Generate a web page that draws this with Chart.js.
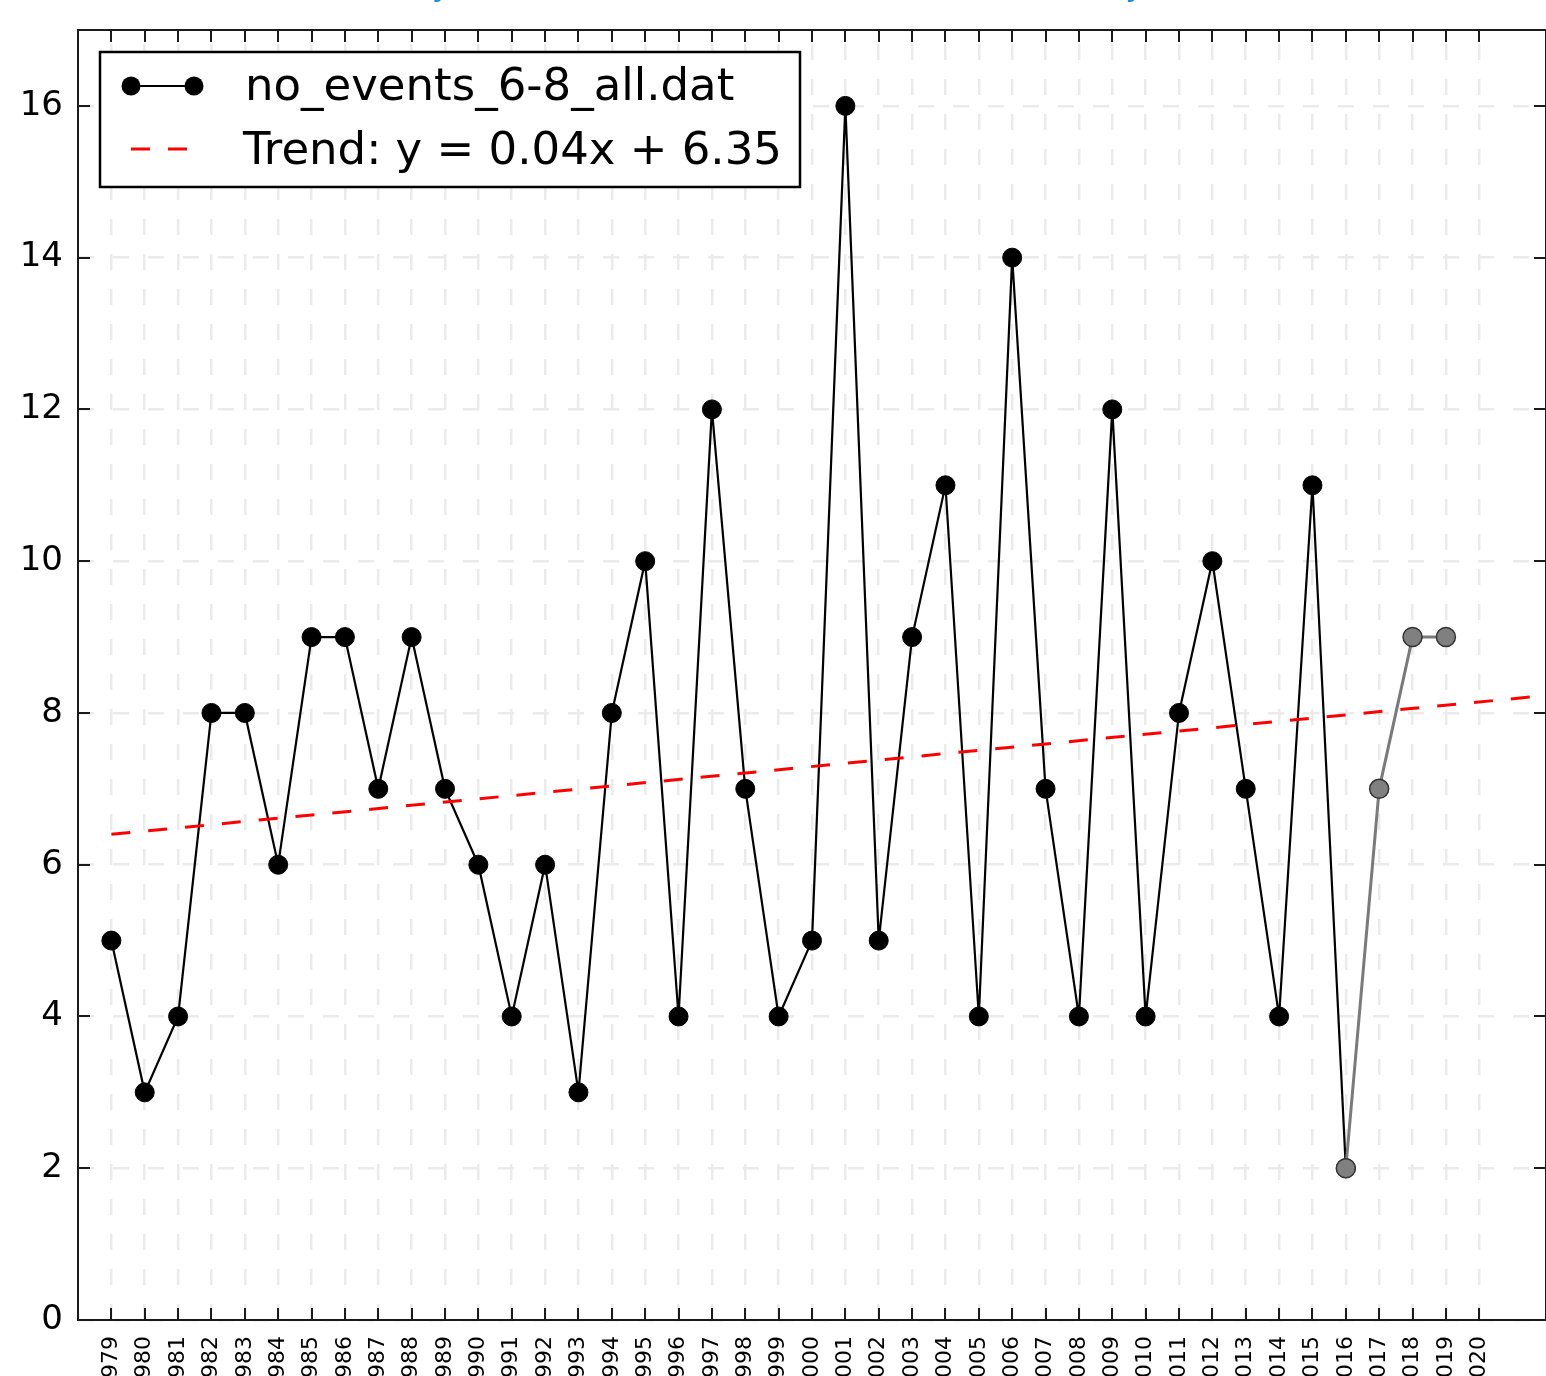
<!DOCTYPE html>
<html>
<head>
<meta charset="utf-8">
<script src="https://cdn.jsdelivr.net/npm/chart.js@4.4.0/dist/chart.umd.min.js"></script>
<style>
    html, body { margin: 0; padding: 0; background: #fff; overflow: hidden; }
    #wrap { position: absolute; left: 0; top: -60px; }
</style>
</head>
<body>
<div id="wrap"><canvas id="eventsChart" width="1557" height="1476"></canvas></div>
<script>
// data
const years = [1979, 1980, 1981, 1982, 1983, 1984, 1985, 1986, 1987, 1988,
               1989, 1990, 1991, 1992, 1993, 1994, 1995, 1996, 1997, 1998,
               1999, 2000, 2001, 2002, 2003, 2004, 2005, 2006, 2007, 2008,
               2009, 2010, 2011, 2012, 2013, 2014, 2015, 2016, 2017, 2018, 2019];
const events = [5, 3, 4, 8, 8, 6, 9, 9, 7, 9,
                7, 6, 4, 6, 3, 8, 10, 4, 12, 7,
                4, 5, 16, 5, 9, 11, 4, 14, 7, 4,
                12, 4, 8, 10, 7, 4, 11, 2, 7, 9, 9];
const provisionalFrom = 2016;   // grey part of the series
const trendYears = [1979, 2022];
const trendValues = [6.4, 8.23];
const xTickYears = [];
for (let yr = 1979; yr <= 2020; yr++) xTickYears.push(yr);
const yTickValues = [0, 2, 4, 6, 8, 10, 12, 14, 16];

const seriesLabel = "no_events_6-8_all.dat";
const trendLabel = "Trend: y = 0.04x + 6.35";
const titleText = "Heavy rain events in summer for all stations in Germany";

const observed = years.map((yr, i) => ({ x: yr, y: events[i] })).filter(p => p.x <= provisionalFrom);
const provisional = years.map((yr, i) => ({ x: yr, y: events[i] })).filter(p => p.x >= provisionalFrom);
const trend = trendYears.map((yr, i) => ({ x: yr, y: trendValues[i] }));

const gridColor = "#ebebeb";

// frame + inward ticks on all four sides
const framePlugin = {
    id: "frame",
    afterDatasetsDraw(chart) {
        const { ctx, chartArea: a, scales: { x, y } } = chart;
        const len = 12;
        ctx.save();
        ctx.strokeStyle = "#1a1a1a";
        ctx.lineWidth = 2;
        ctx.beginPath();
        x.ticks.forEach((t) => {
            const px = Math.round(x.getPixelForValue(t.value));
            ctx.moveTo(px, a.top); ctx.lineTo(px, a.top + len);
            ctx.moveTo(px, a.bottom); ctx.lineTo(px, a.bottom - len);
        });
        y.ticks.forEach((t) => {
            const py = Math.round(y.getPixelForValue(t.value));
            ctx.moveTo(a.left, py); ctx.lineTo(a.left + len, py);
            ctx.moveTo(a.right, py); ctx.lineTo(a.right - len, py);
        });
        ctx.stroke();
        ctx.strokeRect(a.left, a.top, a.right - a.left, a.bottom - a.top);
        ctx.restore();
    },
};

// matplotlib-like legend box in the upper left corner
const boxLegendPlugin = {
    id: "boxLegend",
    afterDraw(chart) {
        const { ctx, chartArea: a } = chart;
        const ds = chart.data.datasets;
        const black = ds[2], red = ds[0];
        const left = a.left + 22, top = a.top + 22, w = 700, h = 135;
        ctx.save();
        ctx.fillStyle = "#fff";
        ctx.fillRect(left, top, w, h);
        ctx.strokeStyle = "#000";
        ctx.lineWidth = 2.5;
        ctx.strokeRect(left, top, w, h);

        const row1 = top + 34, row2 = top + 97;
        const s0 = left + 31, s1 = left + 94;
        // series sample
        ctx.strokeStyle = black.borderColor;
        ctx.lineWidth = black.borderWidth;
        ctx.beginPath(); ctx.moveTo(s0, row1); ctx.lineTo(s1, row1); ctx.stroke();
        ctx.fillStyle = black.pointBackgroundColor;
        [s0, s1].forEach((sx) => {
            ctx.beginPath(); ctx.arc(sx, row1, black.pointRadius, 0, Math.PI * 2); ctx.fill();
        });
        // trend sample
        ctx.strokeStyle = red.borderColor;
        ctx.lineWidth = red.borderWidth;
        ctx.setLineDash(red.borderDash);
        ctx.beginPath(); ctx.moveTo(s0, row2); ctx.lineTo(s0 + 57, row2); ctx.stroke();
        ctx.setLineDash([]);

        ctx.fillStyle = "#000";
        ctx.font = "45px 'DejaVu Sans'";
        ctx.textBaseline = "middle";
        ctx.fillText(black.label, left + 145, row1 + 2);
        ctx.fillText(red.label, left + 143, row2 + 3);
        ctx.restore();
    },
};

// title sits above the visible page; only the descenders peek in
const titlePlugin = {
    id: "cutTitle",
    afterDraw(chart) {
        const ctx = chart.ctx;
        ctx.save();
        ctx.font = "bold 40px 'DejaVu Sans'";
        const i1 = titleText.indexOf("y");
        const i2 = titleText.lastIndexOf("y");
        const yw = ctx.measureText("y").width;
        const c1 = ctx.measureText(titleText.slice(0, i1)).width + yw / 2;
        const c2 = ctx.measureText(titleText.slice(0, i2)).width + yw / 2;
        const k = 694 / (c2 - c1);
        ctx.font = "bold " + (40 * k).toFixed(1) + "px 'DejaVu Sans'";
        ctx.fillStyle = "#1a8cd8";
        ctx.textBaseline = "alphabetic";
        ctx.fillText(titleText, 440 - c1 * k, 57);
        ctx.restore();
    },
};

const ctx = document.getElementById("eventsChart").getContext("2d");

new Chart(ctx, {
    type: "line",
    data: {
        datasets: [
            {
                label: trendLabel,
                data: trend,
                borderColor: "#ff0000",
                borderWidth: 3,
                borderDash: [19, 18],
                pointRadius: 0,
                fill: false,
            },
            {
                label: "provisional",
                data: provisional,
                borderColor: "#7a7a7a",
                borderWidth: 3,
                pointRadius: 9.5,
                pointBackgroundColor: "#808080",
                pointBorderColor: "#333",
                pointBorderWidth: 1.5,
                fill: false,
            },
            {
                label: seriesLabel,
                data: observed,
                borderColor: "#000",
                borderWidth: 2.2,
                pointRadius: 9.5,
                pointBackgroundColor: "#000",
                pointBorderColor: "#000",
                pointBorderWidth: 1,
                fill: false,
            },
        ],
    },
    options: {
        responsive: false,
        maintainAspectRatio: false,
        devicePixelRatio: 1,
        animation: false,
        events: [],
        tension: 0,
        layout: { padding: { top: 90, right: 1, left: 0, bottom: 0 } },
        plugins: {
            legend: { display: false },
            tooltip: { enabled: false },
            title: { display: false },
        },
        scales: {
            x: {
                type: "linear",
                min: 1978,
                max: 2022,
                afterBuildTicks: (scale) => {
                    scale.ticks = xTickYears.map((v) => ({ value: v }));
                },
                afterFit: (scale) => {
                    scale.height = 96;
                    scale.paddingLeft = 0;
                    scale.paddingRight = 0;
                },
                ticks: {
                    autoSkip: false,
                    minRotation: 90,
                    maxRotation: 90,
                    padding: 16,
                    color: "#000",
                    font: { family: "'DejaVu Sans'", size: 22 },
                    callback: (v) => String(v),
                },
                grid: {
                    color: gridColor,
                    lineWidth: 2.5,
                    drawTicks: false,
                    borderDash: [16, 19],
                    borderDashOffset: 21,
                },
                border: { display: false, dash: [16, 19], dashOffset: 21 },
            },
            y: {
                min: 0,
                max: 17,
                afterBuildTicks: (scale) => {
                    scale.ticks = yTickValues.map((v) => ({ value: v }));
                },
                afterFit: (scale) => { scale.width = 78; },
                ticks: {
                    padding: 15,
                    color: "#000",
                    font: { family: "'DejaVu Sans'", size: 34 },
                },
                grid: {
                    color: gridColor,
                    lineWidth: 2.5,
                    drawTicks: false,
                    borderDash: [16, 19],
                    borderDashOffset: 0,
                },
                border: { display: false, dash: [16, 19], dashOffset: 0 },
            },
        },
    },
    plugins: [framePlugin, boxLegendPlugin, titlePlugin],
});
</script>
</body>
</html>
